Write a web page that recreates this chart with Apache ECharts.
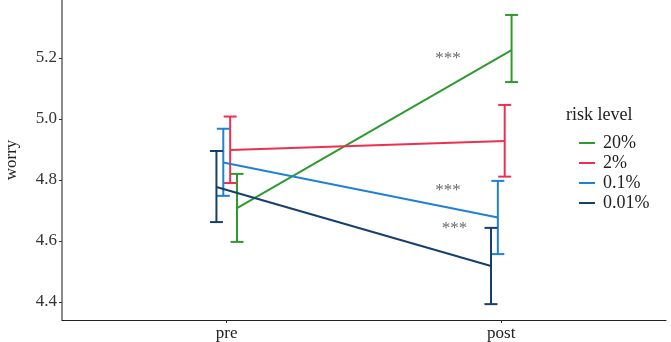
<!DOCTYPE html>
<html>
<head>
<meta charset="utf-8">
<script src="https://cdn.jsdelivr.net/npm/echarts@6/dist/echarts.min.js"></script>
<style>
  html, body { margin: 0; padding: 0; background: #fff; }
  #chart { width: 671px; height: 342px; }
</style>
</head>
<body>
<div id="chart"></div>
<script>
// phases on the x axis (1 = pre, 2 = post)
var phases = ['pre', 'post'];
var groups = ['20%', '2%', '0.1%', '0.01%'];
var colors = ['#2f9a2f', '#ee3050', '#1f80d8', '#173f6c'];
var dodge = [0.0375, 0.0125, -0.0125, -0.0375];

// mean worry, lower and upper error bar ends, [pre, post]
var mean20 = [4.708, 5.226], lo20 = [4.597, 5.121], hi20 = [4.820, 5.341];
var mean2 = [4.898, 4.928], lo2 = [4.790, 4.811], hi2 = [5.008, 5.046];
var mean01 = [4.857, 4.677], lo01 = [4.748, 4.557], hi01 = [4.968, 4.797];
var mean001 = [4.777, 4.518], lo001 = [4.662, 4.393], hi001 = [4.895, 4.643];

// significance markers
var starX = [1.806, 1.806, 1.83];
var starY = [5.198, 4.764, 4.64];

var yTicks = [4.4, 4.6, 4.8, 5.0, 5.2];

var means = [mean20, mean2, mean01, mean001];
var los = [lo20, lo2, lo01, lo001];
var his = [hi20, hi2, hi01, hi001];

var font = 'Liberation Serif';
var series = [];

groups.forEach(function (g, i) {
    var pts = [], bars = [];
    phases.forEach(function (p, j) {
        var x = j + 1 + dodge[i];
        pts.push([x, means[i][j]]);
        bars.push([x, los[i][j], his[i][j]]);
    });
    series.push({
        name: g,
        type: 'line',
        data: pts,
        symbol: 'none',
        lineStyle: { width: 2, color: colors[i] },
        itemStyle: { color: colors[i] },
        z: 3
    });
    series.push({
        name: g,
        type: 'custom',
        data: bars,
        itemStyle: { color: colors[i] },
        renderItem: function (params, api) {
            var top = api.coord([api.value(0), api.value(2)]);
            var bot = api.coord([api.value(0), api.value(1)]);
            var w = 6.5;
            var st = { stroke: colors[i], lineWidth: 2 };
            return {
                type: 'group',
                children: [
                    { type: 'line', shape: { x1: top[0], y1: top[1], x2: bot[0], y2: bot[1] }, style: st },
                    { type: 'line', shape: { x1: top[0] - w, y1: top[1], x2: top[0] + w, y2: top[1] }, style: st },
                    { type: 'line', shape: { x1: bot[0] - w, y1: bot[1], x2: bot[0] + w, y2: bot[1] }, style: st }
                ]
            };
        },
        z: 3
    });
});

series.push({
    type: 'scatter',
    data: starX.map(function (x, k) { return [x, starY[k]]; }),
    symbolSize: 0,
    label: {
        show: true,
        formatter: '***',
        position: 'inside',
        color: '#444',
        fontFamily: font,
        fontSize: 17
    },
    silent: true
});

var option = {
    animation: false,
    grid: { left: 62, right: 5, top: 0, bottom: 22, outerBoundsMode: 'none', containLabel: false },
    xAxis: {
        type: 'value',
        min: 0.4,
        max: 2.6,
        splitLine: { show: false },
        axisLine: { lineStyle: { color: '#222', width: 1 } },
        axisTick: { customValues: [1, 2], length: 3, lineStyle: { color: '#333' } },
        axisLabel: {
            customValues: [1, 2],
            formatter: function (v) { return phases[Math.round(v) - 1]; },
            color: '#222',
            fontFamily: font,
            fontSize: 17,
            margin: 5
        }
    },
    yAxis: {
        type: 'value',
        min: 4.341,
        max: 5.39,
        name: 'worry',
        nameLocation: 'middle',
        nameRotate: 90,
        nameGap: 42,
        nameTextStyle: { color: '#222', fontFamily: font, fontSize: 17 },
        splitLine: { show: false },
        axisLine: { show: true, lineStyle: { color: '#666', width: 1.5 } },
        axisTick: { show: true, customValues: yTicks, length: 3, lineStyle: { color: '#333' } },
        axisLabel: {
            customValues: yTicks,
            formatter: function (v) { return v.toFixed(1); },
            color: '#333',
            fontFamily: font,
            fontSize: 17,
            margin: 5
        }
    },
    legend: {
        orient: 'vertical',
        left: 574,
        top: 129,
        data: groups.map(function (g) { return { name: g, icon: 'rect' }; }),
        itemWidth: 16,
        itemHeight: 2,
        itemGap: 2,
        textStyle: { color: '#222', fontFamily: font, fontSize: 18, padding: [0, 0, 0, 3] },
        selectedMode: false
    },
    graphic: [{
        type: 'text',
        left: 566,
        top: 106,
        style: { text: 'risk level', fill: '#222', font: '18px "Liberation Serif"' }
    }],
    series: series
};

var chart = echarts.init(document.getElementById('chart'));
chart.setOption(option);
</script>
</body>
</html>
